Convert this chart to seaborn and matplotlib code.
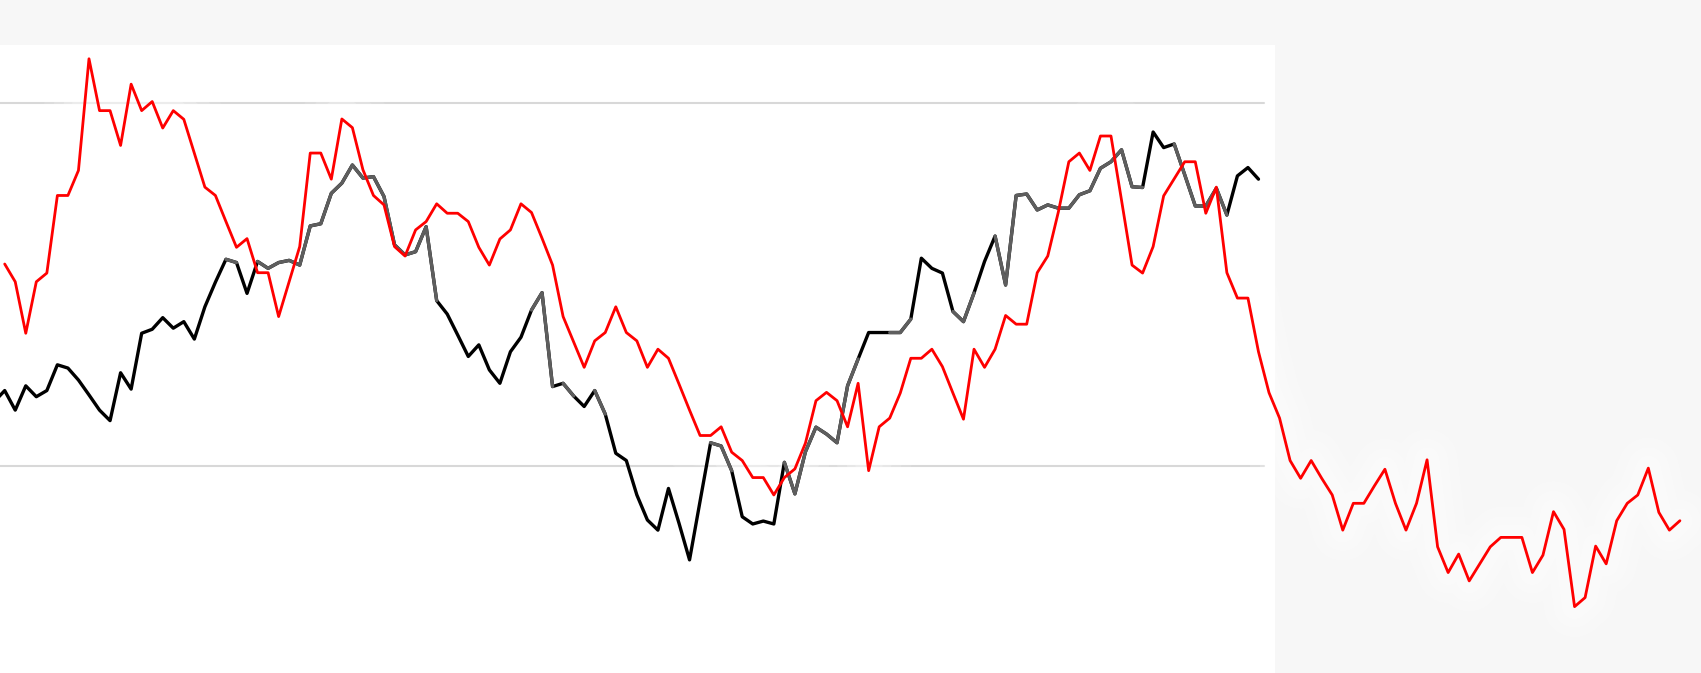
import numpy as np
import pandas as pd
import matplotlib
matplotlib.use("Agg")
import matplotlib.pyplot as plt
from matplotlib.patches import Rectangle
import seaborn as sns

# ---- data (arbitrary units; gridlines at 100 and 200) ----
red_values = [155.7, 150.8, 136.6, 150.8, 153.2, 174.6, 174.6, 181.5, 212.3, 198.0,
              198.0, 188.4, 205.3, 198.0, 200.5, 193.2, 198.0, 195.6, 186.3, 176.9,
              174.6, 167.4, 160.3, 162.7, 153.3, 153.3, 141.2, 150.8, 160.5, 186.3,
              186.3, 179.1, 195.7, 193.3, 181.7, 174.6, 172.0, 160.5, 157.9, 165.1,
              167.4, 172.3, 169.7, 169.7, 167.4, 160.3, 155.4, 162.6, 165.1, 172.3,
              169.9, 162.8, 155.4, 141.2, 134.2, 127.2, 134.5, 136.8, 143.9, 136.8,
              134.5, 127.2, 132.2, 129.7, 122.6, 115.4, 108.4, 108.4, 110.8, 103.8,
              101.5, 96.8, 96.8, 92.0, 96.8, 99.2, 106.3, 118.0, 120.3, 118.0,
              110.8, 122.8, 98.7, 110.8, 113.2, 120.1, 129.7, 129.7, 132.2, 127.4,
              120.1, 112.9, 132.2, 127.2, 132.2, 141.5, 139.1, 139.1, 153.3, 157.9,
              170.0, 183.9, 186.3, 181.5, 191.0, 191.0, 173.3, 155.4, 153.2, 160.5,
              174.5, 179.2, 183.9, 183.9, 169.7, 176.9, 153.3, 146.3, 146.3, 131.5,
              120.2, 113.2, 101.5, 96.6, 101.5, 96.6, 92.0, 82.3, 89.7, 89.7,
              94.5, 99.1, 89.7, 82.3, 89.7, 101.7, 77.7, 70.6, 75.7, 68.3,
              73.0, 77.7, 80.3, 80.3, 80.3, 70.6, 75.4, 87.4, 82.5, 61.2,
              63.7, 77.9, 73.0, 84.9, 89.7, 92.0, 99.4, 87.2, 82.3, 84.9]

black_start = -1
black_values = [117.7, 120.8, 115.4, 122.1, 119.1, 120.8, 127.9, 127.0, 123.7, 119.6,
                115.4, 112.5, 125.7, 121.2, 136.6, 137.7, 140.9, 138.0, 139.8, 135.0,
                143.9, 150.7, 157.0, 156.1, 147.6, 156.4, 154.5, 156.1, 156.7, 155.4,
                166.2, 166.8, 175.2, 178.0, 183.0, 179.4, 179.8, 174.3, 161.0, 158.2,
                159.1, 166.0, 145.6, 141.9, 136.1, 130.2, 133.4, 126.5, 122.8, 131.5,
                135.5, 143.0, 147.8, 121.9, 122.8, 119.3, 116.4, 120.8, 114.3, 103.5,
                101.5, 92.0, 85.1, 82.3, 93.8, 84.2, 74.1, 90.3, 106.4, 105.5,
                98.7, 86.0, 84.0, 84.8, 84.0, 101.0, 92.3, 103.9, 110.7, 108.8,
                106.4, 122.1, 129.5, 136.8, 136.8, 136.8, 136.8, 140.5, 157.3, 154.5,
                153.2, 142.6, 139.8, 147.7, 156.4, 163.4, 149.9, 174.6, 175.0, 170.6,
                172.0, 171.1, 171.1, 174.8, 175.9, 182.1, 183.9, 187.2, 177.0, 176.8,
                192.1, 187.8, 188.8, 180.3, 171.7, 171.7, 176.6, 169.2, 180.0, 182.3,
                179.1]

# indices (x positions) where a segment of the dark line starts in grey tone
gray_segment_starts = [21, 24, 25, 26, 27, 28, 29, 30, 31, 32, 33, 34, 35, 36, 37, 38,
                       39, 40, 50, 51, 53, 56, 67, 68, 74, 75, 76, 77, 78, 79, 80,
                       84, 85, 90, 91, 94, 95, 96, 97, 98, 99, 100, 101, 102, 103,
                       104, 105, 106, 107, 111, 112, 113, 114, 115]

grid_values = [100, 200]

# ---- styling ----
BG = "#f7f7f7"
RED = "#ff0000"
BLACK = "#000000"
GRAY = "#5e5e5e"
GRID = "#d8d8d8"

W, H = 1701, 673
sns.set_theme(style="white")

fig = plt.figure(figsize=(W / 100, H / 100), dpi=100, facecolor=BG)
panel_right = 1275
panel_top = 45
ax = fig.add_axes([0, 0, panel_right / W, (H - panel_top) / H])
ax.set_facecolor("white")

px_per_x = 10.536
x0_px = 4.7
ax.set_xlim(-x0_px / px_per_x, (panel_right - x0_px) / px_per_x)
ax.set_ylim(42.9, 216.1)

for g in grid_values:
    ax.axhline(g, xmin=0, xmax=1264 / panel_right, color=GRID, lw=1.5, zorder=1)

df_red = pd.DataFrame({"x": np.arange(len(red_values)), "y": red_values})
df_black = pd.DataFrame({"x": np.arange(len(black_values)) + black_start,
                         "y": black_values})

# soft, blurred-looking halo behind the red line (layered strokes)
halo_clip = Rectangle((0, 0), 1, (H - panel_top) / H, transform=fig.transFigure,
                      facecolor="none", edgecolor="none")
fig.add_artist(halo_clip)
halo_clip.set_visible(False)
for lw_, a_ in [(58, 0.12), (44, 0.16), (30, 0.22), (18, 0.22)]:
    n0 = len(ax.lines)
    sns.lineplot(data=df_red, x="x", y="y", ax=ax, color="white", lw=lw_, alpha=a_,
                 sort=False, zorder=1.5)
    for ln in ax.lines[n0:]:
        ln.set_clip_on(True)
        ln.set_clip_path(halo_clip)
        ln.set_solid_joinstyle("round")
        ln.set_solid_capstyle("round")

# dark line, black base
sns.lineplot(data=df_black, x="x", y="y", ax=ax, color=BLACK, lw=2.4, sort=False,
             zorder=2)

# grey runs
runs = []
for s in gray_segment_starts:
    if runs and s == runs[-1][1] + 1:
        runs[-1][1] = s
    else:
        runs.append([s, s])
for a, b in runs:
    sub = df_black[(df_black["x"] >= a) & (df_black["x"] <= b + 1)]
    sns.lineplot(data=sub, x="x", y="y", ax=ax, color=GRAY, lw=2.4, sort=False,
                 zorder=2.1)

# red line (extends past the panel)
n0 = len(ax.lines)
sns.lineplot(data=df_red, x="x", y="y", ax=ax, color=RED, lw=2.0, sort=False,
             zorder=3)
for ln in ax.lines[n0:]:
    ln.set_clip_on(False)

ax.set_xticks([])
ax.set_yticks([])
ax.set_xlabel("")
ax.set_ylabel("")
for sp in ax.spines.values():
    sp.set_visible(False)
if ax.get_legend() is not None:
    ax.get_legend().remove()

fig.savefig("out.png", dpi=100, facecolor=BG)
